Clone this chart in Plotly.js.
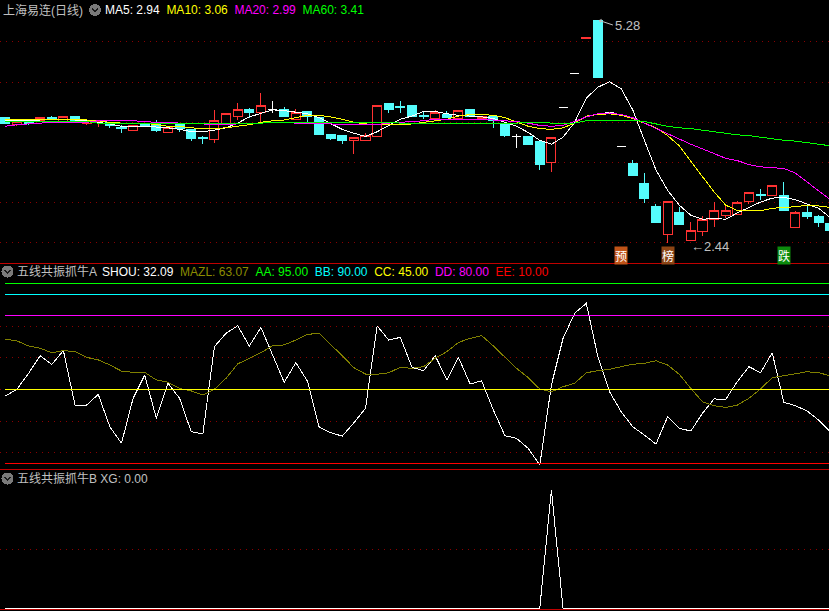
<!DOCTYPE html>
<html><head><meta charset="utf-8">
<script src="https://cdn.plot.ly/plotly-3.0.1.min.js"></script>
<style>html,body{margin:0;padding:0;background:#000;overflow:hidden}#chart{width:829px;height:611px}
#chart .scatterlayer path, #chart .boxlayer path, #chart .gridlayer path, #chart .layer-above path{shape-rendering:crispEdges}</style>
</head><body><div id="chart"></div>
<script>
// ---------- data ----------
const openP = [4.03,3.94,3.99,3.99,4.03,3.98,4.04,3.95,3.98,3.97,
  3.90,3.86,3.94,3.97,3.84,3.95,3.88,3.77,3.75,3.94,
  4.04,4.13,4.09,4.13,4.13,4.01,4.11,4.03,3.82,3.80,
  3.74,3.74,3.79,4.21,4.17,4.19,4.06,4.02,4.07,4.02,
  4.13,4.02,4.04,3.95,3.79,3.79,3.72,3.45,4.16,4.60,
  5.04,5.28,4.10,3.66,3.44,3.19,2.89,2.54,2.82,2.46,
  2.57,2.73,2.78,2.79,2.96,3.05,3.03,3.04,2.62,2.81,
  2.76,2.68];
const highP = [4.04,3.99,4.00,4.04,4.05,4.05,4.04,3.98,3.99,3.97,
  3.93,3.93,3.95,4.00,3.91,3.95,3.88,3.80,4.13,4.08,
  4.22,4.15,4.35,4.24,4.17,4.14,4.11,4.03,3.82,3.80,
  3.77,3.83,4.19,4.21,4.24,4.19,4.11,4.13,4.11,4.12,
  4.14,4.05,4.04,3.95,3.82,3.79,3.72,3.78,4.16,4.60,
  5.05,5.28,4.10,3.66,3.49,3.32,2.93,2.96,2.89,2.70,
  2.77,2.95,2.93,2.96,3.07,3.12,3.16,3.21,2.83,2.92,
  2.78,2.70];
const lowP = [3.95,3.92,3.94,3.98,4.00,3.98,3.98,3.94,3.91,3.90,
  3.84,3.86,3.91,3.85,3.84,3.85,3.73,3.69,3.70,3.94,
  4.00,4.03,3.98,4.09,4.04,4.01,3.98,3.81,3.74,3.69,
  3.57,3.74,3.79,4.09,4.09,4.05,4.01,4.02,4.02,4.02,
  4.05,4.02,3.90,3.78,3.64,3.68,3.36,3.34,4.16,4.60,
  5.04,4.55,4.10,3.66,3.29,2.94,2.69,2.43,2.66,2.45,
  2.51,2.63,2.74,2.79,2.93,2.98,3.03,2.84,2.62,2.73,
  2.63,2.58];
const closeP = [3.96,3.98,3.96,4.03,4.02,4.04,3.98,3.96,3.99,3.93,
  3.89,3.93,3.92,3.86,3.91,3.89,3.76,3.76,4.00,4.08,
  4.14,4.09,4.19,4.13,4.04,4.09,4.05,3.82,3.76,3.74,
  3.77,3.80,4.19,4.14,4.16,4.05,4.05,4.09,4.03,4.12,
  4.05,4.05,3.99,3.80,3.79,3.69,3.43,3.78,4.16,4.60,
  5.05,4.55,4.10,3.66,3.29,2.99,2.69,2.96,2.66,2.58,
  2.73,2.84,2.84,2.94,3.07,3.04,3.16,2.84,2.81,2.77,
  2.69,2.58];
const ma5 = [4.00,4.00,4.00,4.00,4.01,4.01,4.00,3.99,3.97,3.95,
  3.92,3.92,3.92,3.91,3.90,3.88,3.85,3.85,3.87,3.90,
  3.96,4.04,4.09,4.13,4.12,4.10,4.08,4.03,3.95,3.88,
  3.83,3.79,3.85,3.93,4.01,4.05,4.11,4.11,4.08,4.06,
  4.05,4.04,4.02,3.97,3.92,3.84,3.74,3.69,3.78,3.97,
  4.28,4.42,4.49,4.40,4.13,3.74,3.36,3.10,2.91,2.78,
  2.73,2.74,2.73,2.81,2.88,2.95,3.00,3.01,2.98,2.93,
  2.87,2.75];
const ma10 = [4.01,4.01,4.01,4.01,4.01,4.01,4.01,4.00,3.99,3.97,
  3.96,3.96,3.96,3.94,3.92,3.92,3.90,3.89,3.89,3.90,
  3.92,3.94,3.97,3.99,4.00,4.03,4.06,4.06,4.04,4.01,
  3.97,3.95,3.94,3.94,3.94,3.95,3.97,3.99,4.01,4.05,
  4.07,4.07,4.06,4.03,3.98,3.92,3.89,3.88,3.90,3.96,
  4.05,4.07,4.08,4.06,4.02,3.96,3.90,3.80,3.67,3.47,
  3.28,3.08,2.91,2.84,2.84,2.84,2.87,2.88,2.89,2.91,
  2.90,2.88];
const ma20 = [3.92,3.94,3.95,3.96,3.97,3.97,3.97,3.97,3.99,3.99,
  3.99,3.99,3.98,3.97,3.97,3.96,3.96,3.95,3.94,3.94,
  3.95,3.96,3.96,3.97,3.97,3.96,3.96,3.95,3.95,3.94,
  3.94,3.94,3.94,3.96,3.97,3.98,3.99,4.01,4.01,4.01,
  4.01,4.01,4.00,3.99,3.98,3.96,3.93,3.92,3.93,3.98,
  4.04,4.08,4.09,4.07,4.03,3.96,3.89,3.83,3.76,3.69,
  3.63,3.57,3.51,3.48,3.43,3.40,3.39,3.38,3.32,3.21,
  3.09,2.98];
const ma60 = [3.98,3.98,3.98,3.98,3.98,3.98,3.98,3.98,3.96,3.96,
  3.96,3.96,3.96,3.96,3.96,3.96,3.96,3.96,3.96,3.96,
  3.96,3.96,3.96,3.97,3.97,3.97,3.97,3.97,3.97,3.97,
  3.97,3.97,3.97,3.97,3.96,3.96,3.96,3.96,3.96,3.96,
  3.96,3.96,3.96,3.96,3.96,3.97,3.97,3.96,3.96,3.96,
  3.99,4.00,4.00,4.00,4.00,3.98,3.95,3.92,3.90,3.89,
  3.87,3.85,3.83,3.81,3.80,3.78,3.76,3.74,3.73,3.71,
  3.69,3.67];
const shou = [41.9,45.1,52.6,61.0,56.9,63.4,37.6,37.6,42.7,27.3,
  19.5,40.8,51.8,31.3,47.9,40.8,25.0,23.9,65.3,71.6,
  75.2,65.6,74.4,61.3,48.4,57.7,49.0,27.3,24.5,22.9,
  29.2,36.1,75.1,68.4,69.7,55.5,53.9,61.0,49.5,60.2,
  47.6,49.1,35.3,23.1,21.8,17.1,9.2,47.1,69.2,81.1,
  85.8,60.5,43.9,34.5,27.3,23.4,19.1,32.1,26.6,25.3,
  33.7,40.5,40.3,48.7,55.8,52.9,62.4,38.9,37.3,34.8,
  30.5,25.0];
const mazl = [68.9,68.0,65.6,64.5,62.4,63.4,62.9,60.2,59.0,56.6,
  53.7,53.1,53.1,49.5,48.4,45.5,44.3,42.4,45.1,50.3,
  57.1,59.8,62.4,65.7,66.1,68.4,71.1,71.6,66.4,61.0,
  55.3,52.3,52.2,52.9,55.5,55.0,55.8,59.8,62.9,67.3,
  69.2,70.5,65.6,60.5,55.0,50.6,45.2,43.9,46.3,47.9,
  52.9,53.9,54.5,55.8,56.9,57.4,58.6,56.6,52.2,45.5,
  39.2,37.3,36.5,37.6,40.8,45.2,50.6,51.5,52.3,53.4,
  52.9,51.5];
const xg = [0,0,0,0,0,0,0,0,0,0, 0,0,0,0,0,0,0,0,0,0,
  0,0,0,0,0,0,0,0,0,0, 0,0,0,0,0,0,0,0,0,0,
  0,0,0,0,0,0,0,1,0,0, 0,0,0,0,0,0,0,0,0,0,
  0,0,0,0,0,0,0,0,0,0, 0,0];
const levelNames = ['AA','BB','CC','DD','EE'];
const levelValues = [95, 90, 45, 80, 10];
const signalIdx = [53, 57, 67];
const signalText = ['预', '榜', '跌'];
const highLabel = {idx: 51, text: '5.28'};
const lowLabel = {idx: 59, text: '←2.44'};
const mainTitle = '上海易连(日线)';
const maLegend = [['MA5: 2.94','#ffffff'],['MA10: 3.06','#ffff00'],['MA20: 2.99','#ff00ff'],['MA60: 3.41','#00ff00']];
const indATitle = '五线共振抓牛A';
const indALegend = [['SHOU: 32.09','#ffffff'],['MAZL: 63.07','#8c8c00'],['AA: 95.00','#00ff00'],['BB: 90.00','#00ffff'],['CC: 45.00','#ffff00'],['DD: 80.00','#ff00ff'],['EE: 10.00','#ff0000']];
const indBTitle = '五线共振抓牛B XG: 0.00';

// ---------- styles ----------
const W = 829, H = 611;
const RED = '#ff3232', CYAN = '#54fcfc', GRID = '#8a0000', SEP = '#c00000';
const FONT = 'Liberation Sans, Noto Sans CJK SC, sans-serif';
const levelColors = {AA:'#00ff00', BB:'#00ffff', CC:'#ffff00', DD:'#ff00ff', EE:'#ff0000'};
const px = x => x / W, py = y => 1 - y / H;
const N = closeP.length;
const idx = Array.from({length: N}, (_, i) => i);

function subset(cond) {
  const ids = idx.filter(cond);
  return {x: ids, open: ids.map(i => openP[i]), high: ids.map(i => highP[i]),
          low: ids.map(i => lowP[i]), close: ids.map(i => closeP[i])};
}
function candle(sub, color, fill) {
  return Object.assign({type: 'candlestick', xaxis: 'x', yaxis: 'y', whiskerwidth: 0,
    hoverinfo: 'skip', showlegend: false,
    increasing: {line: {color: color, width: 1}, fillcolor: fill},
    decreasing: {line: {color: color, width: 1}, fillcolor: fill}}, sub);
}
const line = (y, color, xa, ya) => ({type: 'scatter', mode: 'lines', x: idx, y: y,
  xaxis: xa, yaxis: ya, line: {color: color, width: 1}, hoverinfo: 'skip', showlegend: false});

const traces = [
  candle(subset(i => closeP[i] > openP[i]), RED, '#000000'),
  candle(subset(i => closeP[i] < openP[i]), CYAN, CYAN),
  candle(subset(i => closeP[i] === openP[i]), '#ffffff', '#ffffff'),
  line(ma5, '#ffffff', 'x', 'y'),
  line(ma10, '#ffff00', 'x', 'y'),
  line(ma20, '#ff00ff', 'x', 'y'),
  line(ma60, '#00ff00', 'x', 'y'),
  line(shou, '#ffffff', 'x2', 'y2'),
  line(mazl, '#808000', 'x2', 'y2'),
];
levelNames.forEach((n, k) => traces.push(line(idx.map(() => levelValues[k]), levelColors[n], 'x2', 'y2')));
traces.push(line(xg, '#ffffff', 'x3', 'y3'));

// ---------- axes ----------
const xr = [-0.456, 70.89];
const xax = a => ({range: xr, visible: false, fixedrange: true, anchor: a});
const mainRange = [5.536 - 0.0128 * 263, 5.536];
const mainGrid = [5.00, 4.486, 3.974, 3.462, 2.950, 2.438];
const yax = (dom, rng, grid) => ({domain: dom, range: rng, tickmode: 'array', tickvals: grid,
  showticklabels: false, showgrid: true, gridcolor: GRID, griddash: '1px,5px', gridwidth: 1,
  zeroline: false, showline: false, ticks: '', fixedrange: true});

// ---------- annotations ----------
const ann = [];
const txt = (x, y, text, color, extra) => ann.push(Object.assign({xref: 'paper', yref: 'paper',
  x: px(x), y: py(y), text: text, showarrow: false, xanchor: 'left', yanchor: 'middle',
  font: {family: FONT, size: 12, color: color}}, extra || {}));
const legendHtml = arr => arr.map(([t, c]) => `<span style="color:${c}">${t}</span>`).join('\u00a0\u00a0');

txt(1, 10, mainTitle, '#c0c0c0');
txt(103, 10, legendHtml(maLegend), '#ffffff');
txt(15, 271.5, indATitle, '#c0c0c0');
txt(100, 271.5, legendHtml(indALegend), '#ffffff');
txt(15, 478.5, indBTitle, '#c0c0c0');

ann.push({xref: 'x', yref: 'y', x: highLabel.idx, y: highP[highLabel.idx], text: highLabel.text,
  showarrow: true, ax: 15, ay: 5, arrowhead: 1, arrowsize: 0.8, arrowwidth: 1, arrowcolor: '#c0c0c0',
  standoff: 1, xanchor: 'left', yanchor: 'middle', font: {family: FONT, size: 13, color: '#c0c0c0'}});
ann.push({xref: 'x', yref: 'y', x: lowLabel.idx, y: lowP[lowLabel.idx], text: lowLabel.text,
  showarrow: false, xanchor: 'left', yanchor: 'middle', xshift: -2, yshift: -5,
  font: {family: FONT, size: 13, color: '#c0c0c0'}});
const sigColors = ['#c05418', '#8c4414', '#0c8a0c'];
signalIdx.forEach((i, k) => ann.push({xref: 'x', yref: 'paper', x: i, y: py(255.5), text: signalText[k],
  showarrow: false, xanchor: 'center', yanchor: 'middle', bgcolor: sigColors[k], borderpad: 0,
  font: {family: 'Noto Sans CJK SC', size: 12, color: '#ffffff'}}));

// ---------- shapes ----------
const shapes = [];
[263.5, 469.5, 609.5].forEach(y => shapes.push({type: 'line', xref: 'paper', yref: 'paper',
  x0: 0, x1: 1, y0: py(y), y1: py(y), line: {color: SEP, width: 1}}));
function icon(cx, cy) {
  shapes.push({type: 'circle', xref: 'paper', yref: 'paper', x0: px(cx - 6), x1: px(cx + 6),
    y0: py(cy + 6), y1: py(cy - 6), fillcolor: '#7a7a7a', line: {width: 0}});
  shapes.push({type: 'path', xref: 'paper', yref: 'paper',
    path: `M ${px(cx - 3)} ${py(cy - 1.5)} L ${px(cx)} ${py(cy + 1.5)} L ${px(cx + 3)} ${py(cy - 1.5)}`,
    line: {color: '#1a1a1a', width: 1.5}});
}
icon(95, 10); icon(7.5, 271.5); icon(7.5, 478.5);

const layout = {
  width: W, height: H, margin: {l: 0, r: 0, t: 0, b: 0, pad: 0},
  paper_bgcolor: '#000000', plot_bgcolor: '#000000', showlegend: false,
  boxgap: 0.22, boxgroupgap: 0,
  font: {family: FONT, size: 12, color: '#c0c0c0'},
  xaxis: Object.assign(xax('y'), {rangeslider: {visible: false}}),
  xaxis2: xax('y2'), xaxis3: xax('y3'),
  yaxis: yax([1 - 263 / H, 1], mainRange, mainGrid),
  yaxis2: yax([1 - 469 / H, 1 - 263 / H], [7.30, 104.93], [15, 30, 45, 60, 75]),
  yaxis3: yax([0, 1 - 469 / H], [-0.0254, 1.178], [0.5]),
  annotations: ann, shapes: shapes
};
Plotly.newPlot('chart', traces, layout, {staticPlot: true, displayModeBar: false});
</script></body></html>
